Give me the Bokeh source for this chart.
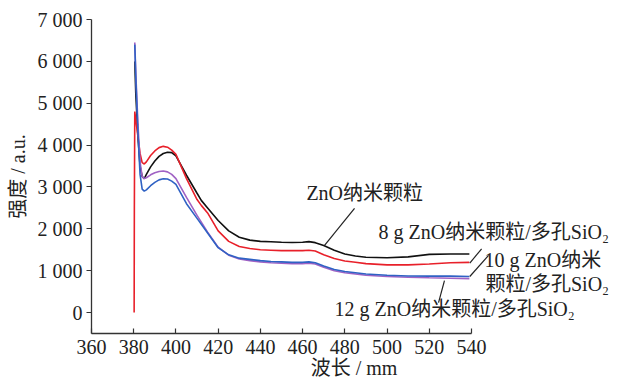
from bokeh.plotting import figure
from bokeh.models import Label, LinearAxis, FixedTicker
from bokeh.embed import file_html
from bokeh.resources import INLINE

# ---- data ----
wl_zno = [380.5, 381, 382, 383, 384, 385, 386, 388, 390, 392, 394, 396, 398, 400, 405, 410, 412, 415,
          420, 425, 430, 435, 440, 445, 450, 455, 460, 463, 466, 470, 475, 480, 485, 490, 500, 510,
          520, 530, 539]
zno = [6000, 5200, 4200, 3500, 3250, 3200, 3300, 3480, 3620, 3730, 3800, 3830, 3820, 3740, 3280, 2850,
       2680, 2500, 2200, 1950, 1800, 1730, 1700, 1690, 1680, 1675, 1680, 1695, 1670, 1600, 1490, 1400,
       1350, 1320, 1310, 1330, 1390, 1400, 1400]

wl_8g = [380.2, 380.3, 380.5, 381, 382, 383, 384, 385, 386, 388, 390, 392, 394, 396, 398, 400, 405, 410,
         412, 415, 420, 425, 430, 435, 440, 445, 450, 455, 460, 463, 466, 470, 475, 480, 485, 490, 500,
         510, 520, 530, 539]
g8 = [0, 2500, 4800, 4600, 4200, 3800, 3580, 3550, 3600, 3750, 3860, 3940, 3970, 3950, 3880, 3780, 3200,
      2700, 2560, 2380, 1950, 1700, 1580, 1530, 1500, 1490, 1480, 1480, 1480, 1490, 1470, 1380, 1290,
      1230, 1200, 1170, 1140, 1140, 1160, 1190, 1200]

wl_10g = [380.5, 381, 382, 383, 384, 385, 386, 388, 390, 392, 394, 396, 398, 400, 405, 410, 415, 420, 425,
          430, 435, 440, 445, 450, 455, 460, 463, 466, 470, 475, 480, 485, 490, 500, 510, 520, 530, 539]
g10 = [6400, 5600, 4300, 3300, 2950, 2900, 2930, 3030, 3110, 3170, 3195, 3190, 3140, 3060, 2600, 2250,
       1900, 1550, 1380, 1300, 1270, 1240, 1220, 1210, 1200, 1200, 1210, 1190, 1110, 1030, 980, 950, 920,
       890, 875, 870, 870, 860]

wl_12g = [380.5, 381, 382, 383, 384, 385, 386, 388, 390, 392, 394, 396, 398, 400, 405, 410, 415, 420, 425,
          430, 435, 440, 445, 450, 455, 460, 463, 466, 470, 475, 480, 485, 490, 500, 510, 520, 530, 539]
g12 = [6450, 5700, 4500, 3600, 3250, 3200, 3220, 3290, 3340, 3370, 3380, 3360, 3300, 3200, 2750, 2320,
       1920, 1560, 1370, 1280, 1240, 1210, 1190, 1180, 1170, 1170, 1180, 1160, 1080, 1000, 950, 920, 890,
       860, 845, 830, 820, 810]

x_ticks = [360, 380, 400, 420, 440, 460, 480, 500, 520, 540]
y_ticks = [0, 1000, 2000, 3000, 4000, 5000, 6000, 7000]
y_tick_labels = ["0", "1 000", "2 000", "3 000", "4 000", "5 000", "6 000", "7 000"]
x_title = "波长 / mm"
y_title = "强度 / a.u."

series_names = ["ZnO纳米颗粒", "8 g ZnO纳米颗粒/多孔SiO₂", "10 g ZnO纳米", "颗粒/多孔SiO₂",
                "12 g ZnO纳米颗粒/多孔SiO₂"]

FONT = "Liberation Serif, Noto Sans CJK SC"

p = figure(width=616, height=382, x_range=(360, 608.7), y_range=(-500, 7000),
           output_backend="svg", toolbar_location=None,
           x_axis_location=None, y_axis_location=None,
           min_border_left=91, min_border_right=0, min_border_top=19, min_border_bottom=49)
p.outline_line_color = None
p.grid.visible = False
p.background_fill_color = "white"

xaxis = LinearAxis(bounds=(360, 540), ticker=FixedTicker(ticks=x_ticks), axis_label=x_title)
yaxis = LinearAxis(bounds=(-500, 7000), ticker=FixedTicker(ticks=y_ticks), axis_label=y_title)
yaxis.major_label_overrides = {t: l for t, l in zip(y_ticks, y_tick_labels)}
for ax in (xaxis, yaxis):
    ax.minor_tick_line_color = None
    ax.axis_line_color = "#333333"
    ax.axis_line_width = 1.3
    ax.major_tick_line_color = "#333333"
    ax.major_tick_line_width = 1.2
    ax.major_label_text_font = FONT
    ax.major_label_text_font_size = "20px"
    ax.major_label_text_color = "#222222"
    ax.axis_label_text_font = FONT
    ax.axis_label_text_font_size = "20px"
    ax.axis_label_text_font_style = "normal"
    ax.axis_label_text_color = "#222222"
xaxis.major_tick_in = 5
xaxis.major_tick_out = 0
xaxis.major_label_standoff = 6
xaxis.axis_label_standoff = 0
yaxis.major_tick_in = 0
yaxis.major_tick_out = 5
yaxis.major_label_standoff = 4
yaxis.axis_label_standoff = 6
p.add_layout(xaxis, "below")
p.add_layout(yaxis, "left")

p.line(wl_zno, zno, line_color="#111111", line_width=1.6)
p.line(wl_8g, g8, line_color="#e8202a", line_width=1.6)
p.line(wl_12g, g12, line_color="#a062c4", line_width=1.6)
p.line(wl_10g, g10, line_color="#2f62c4", line_width=1.6)

# leader lines
p.segment(x0=[484.6, 539.2, 539.2, 527.2], y0=[2488, 1180, 861, 765],
          x1=[470.4, 544.8, 548.1, 524.4], y1=[1603, 1524, 1364, 239],
          line_color="#222222", line_width=1.2)

label_x = [461.8, 496.0, 546.2, 546.6, 475.1]
label_y = [2847, 1914, 1244, 694, 96]
for name, lx, ly in zip(series_names, label_x, label_y):
    p.add_layout(Label(x=lx, y=ly, text=name, text_font=FONT, text_font_size="20px",
                       text_color="#222222", text_baseline="middle", text_align="left"))

open("out.html", "w").write(file_html(p, INLINE))
